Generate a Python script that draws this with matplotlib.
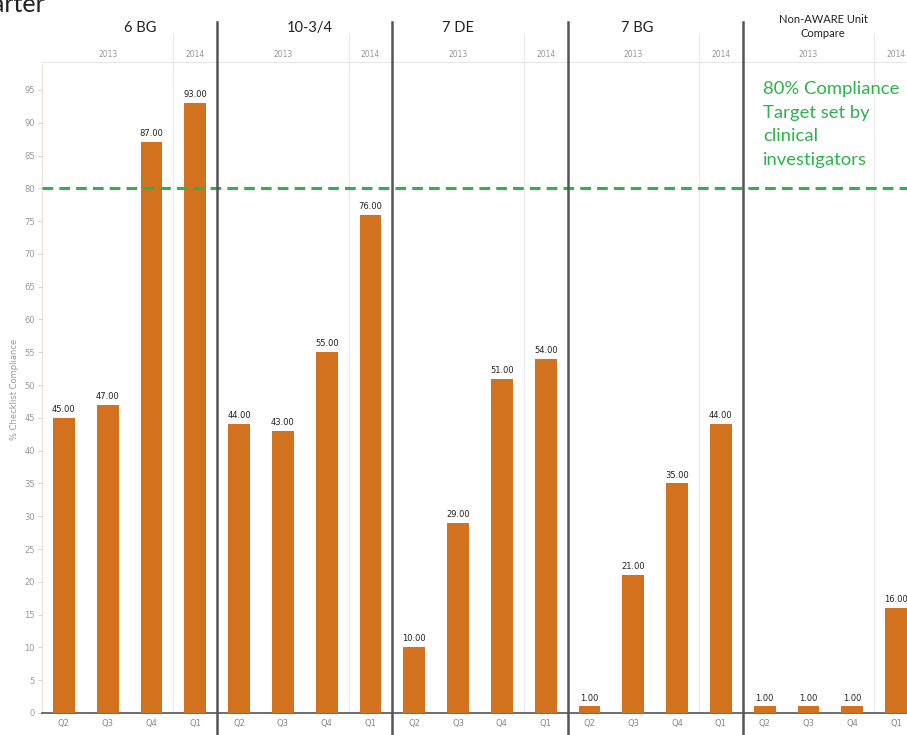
import matplotlib.pyplot as plt
import numpy as np

units = ['6 BG', '10-3/4', '7 DE', '7 BG', 'Non-AWARE Unit\nCompare']
quarters = ['Q2', 'Q3', 'Q4', 'Q1']
years = ['2013', '2014']

bg6 = [45, 47, 87, 93]
ten34 = [44, 43, 55, 76]
de7 = [10, 29, 51, 54]
bg7 = [1, 21, 35, 44]
non_aware = [1, 1, 1, 16]

target = 80
target_text = '80% Compliance\nTarget set by\nclinical\ninvestigators'

values = np.array([bg6, ten34, de7, bg7, non_aware], dtype=float)

orange = '#D2711E'
green = '#2DB34A'
sep = '#555555'

fig = plt.figure(figsize=(9.07, 7.35), dpi=100)
W, H = 907, 735
x0, x1 = 42, 918
ytop, ybot = 65, 713
ax = fig.add_axes([x0 / W, 1 - ybot / H, (x1 - x0) / W, (ybot - ytop) / H])

n = len(quarters)
x = np.arange(values.size)
ax.bar(x, values.ravel(), width=0.5, color=orange, zorder=3)
for xi, v in zip(x, values.ravel()):
    ax.text(xi, v + 0.6, f'{v:.2f}', ha='center', va='bottom',
            fontsize=6, color='#222222', zorder=4)

ax.set_xlim(-0.5, values.size - 0.5)
ax.set_ylim(0, 98.8)
ax.set_yticks(np.arange(0, 100, 5))
ax.tick_params(axis='y', labelsize=6, labelcolor='#999999', color='#cccccc',
               length=3, width=0.6, pad=2)
ax.set_xticks(x)
ax.set_xticklabels(quarters * len(units))
ax.tick_params(axis='x', labelsize=6, labelcolor='#8a8a8a', length=0, pad=4)
ax.set_ylabel('% Checklist Compliance', fontsize=6, color='#999999', labelpad=4)

for s in ['top', 'right']:
    ax.spines[s].set_visible(False)
ax.spines['left'].set_color('#f3e3d3')
ax.spines['left'].set_linewidth(1.0)
ax.spines['bottom'].set_color('#555555')
ax.spines['bottom'].set_linewidth(1.2)

# year dividers inside every unit
for k in range(len(units)):
    ax.axvline(k * n + 2.5, color='#ececec', lw=0.8, zorder=1)
    ax.plot([k * n + 2.5] * 2, [98.8, 103.5], color='#ececec', lw=0.8,
            clip_on=False, zorder=1)

# target line
ax.axhline(target, color=green, ls=(0, (3.5, 2)), lw=2.2, zorder=5)
ax.text(15.96, 96.4, target_text, fontsize=13.3, color=green, va='top',
        ha='left', linespacing=1.6, family='Lato', zorder=6)

# header rows: unit names and years
title_x = [1.74, 5.62, 9.0, 13.08, 17.33]
for k, (name, tx) in enumerate(zip(units, title_x)):
    two_lines = '\n' in name
    ax.text(tx, 102.7 if two_lines else 103.3, name, ha='center', va='bottom',
            fontsize=8 if two_lines else 10.5, color='#222222', family='Lato',
            linespacing=1.4, clip_on=False)
    ax.text(k * n + 1, 99.7, years[0], ha='center', va='bottom',
            fontsize=5.5, color='#999999')
    ax.text(k * n + 3, 99.7, years[1], ha='center', va='bottom',
            fontsize=5.5, color='#999999')
ax.plot([-0.5, values.size - 0.5], [99.3, 99.3], color='#e6e6e6', lw=0.8,
        clip_on=False)

# unit separators
for k in range(1, len(units)):
    ax.plot([k * n - 0.5] * 2, [-3.4, 105.3], color=sep, lw=1.8,
            clip_on=False, zorder=6)

fig.text(45 / W, 1 - 12 / H, 'by Quarter', ha='right', va='baseline',
         fontsize=18, color='#222222', family='Lato')

fig.savefig('out.png', dpi=100)
